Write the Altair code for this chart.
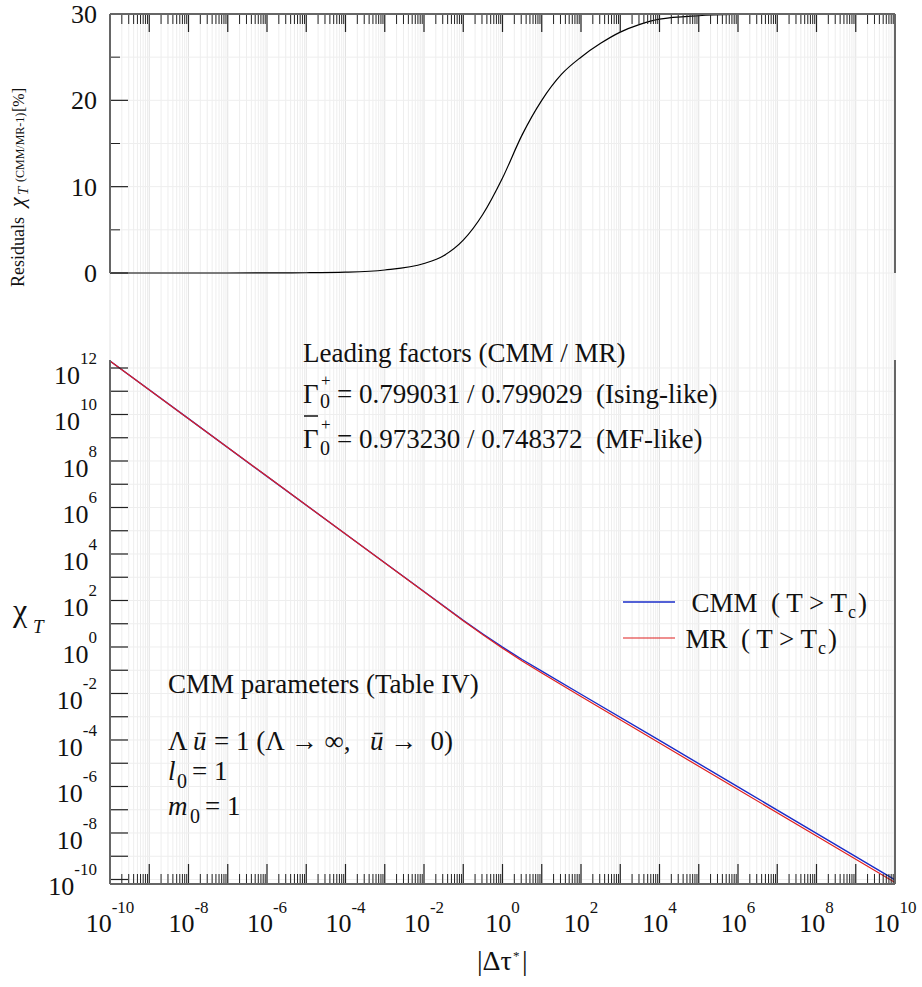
import altair as alt
import pandas as pd

# ---------------- data ----------------
# top panel: residuals chi_T (CMM/MR-1) in %, vs log10|dtau*|
res_log_tau = [-10, -8, -6, -5, -4, -3, -2, -1.5, -1, -0.5, 0, 0.5, 1, 1.5, 2, 2.5, 3, 3.5, 4, 5, 6, 7, 8, 10]
res_pct = [0, 0, 0.01, 0.03, 0.1, 0.35, 1.1, 2.0, 3.8, 6.8, 11.0, 16.0, 20.0, 23.0, 25.0, 26.6, 27.9, 28.8, 29.4, 29.8, 29.95, 30.0, 30.0, 30.0]

# bottom panel: log10 chi_T vs log10|dtau*|
chi_log_tau = [-10, -8, -6, -4, -2, -1, -0.5, 0, 0.5, 1, 2, 4, 6, 8, 10]
chi_mr_log = [12.30, 9.82, 7.34, 4.86, 2.38, 1.13, 0.53, -0.05, -0.60, -1.12, -2.13, -4.13, -6.13, -8.13, -10.13]
chi_cmm_log = [12.30, 9.82, 7.34, 4.86, 2.385, 1.145, 0.557, -0.005, -0.537, -1.041, -2.032, -4.018, -6.016, -8.016, -10.016]

# ticks / labels
x_label_exp = list(range(-10, 11, 2))
x_decades = list(range(-10, 11))
x_minor_mult = [2, 3, 4, 5, 6, 7, 8, 9]
y_label_exp = list(range(-10, 13, 2))
y_decades = list(range(-10, 13))
res_major = [0, 10, 20, 30]
res_minor = [5, 15, 25]
res_grid = [0, 5, 10, 15, 20, 25, 30]

FONT = "Liberation Serif, Times New Roman, Times, serif"
TXT = "#111111"
SP = "\u00a0"
W, H1, H2, GAP = 785, 259, 524, 87
OX, OY1 = 110, 14
OY2 = OY1 + H1 + GAP

ONE = pd.DataFrame({"a": [0]})

XS = alt.Scale(type="log", domain=[1e-10, 1e10], nice=False)
YS1 = alt.Scale(domain=[0, 30], nice=False, zero=False)
YS2 = alt.Scale(type="log", domain=[10 ** -10.194, 10 ** 12.344], nice=False)


def xe(f):
    return alt.X(f"{f}:Q", scale=XS, axis=None)


def y1(f):
    return alt.Y(f"{f}:Q", scale=YS1, axis=None)


def y2(f):
    return alt.Y(f"{f}:Q", scale=YS2, axis=None)


df_res = pd.DataFrame({"tau": [10.0 ** t for t in res_log_tau], "res": res_pct})
df_mr = pd.DataFrame({"tau": [10.0 ** t for t in chi_log_tau], "chi": [10.0 ** v for v in chi_mr_log]})
df_cmm = pd.DataFrame({"tau": [10.0 ** t for t in chi_log_tau], "chi": [10.0 ** v for v in chi_cmm_log]})

df_xmaj = pd.DataFrame({"t": [10.0 ** d for d in x_decades]})
df_xmin = pd.DataFrame({"t": [m * 10.0 ** d for d in x_decades[:-1] for m in x_minor_mult]})
df_ydec = pd.DataFrame({"v": [10.0 ** d for d in y_decades]})


def rule(df=ONE, color="#222", sw=1.0, opacity=1.0, **enc):
    return alt.Chart(df).mark_rule(color=color, strokeWidth=sw, opacity=opacity).encode(**enc)


def txt(s, x, y, size, italic=False, align="left", angle=0, oy=OY2):
    return alt.Chart(ONE).mark_text(
        text=s, font=FONT, fontSize=size, fontStyle="italic" if italic else "normal",
        align=align, baseline="alphabetic", angle=angle, color=TXT
    ).encode(x=alt.value(x - OX), y=alt.value(y - oy))


def ew(s):
    return sum(5.66 if c == "-" else 8.5 for c in s)


GRID_MIN = "#eeeeee"
GRID_MAJ = "#e2e2e2"
FRAME = "#666666"

# ---------------- top panel ----------------
top_layers = [
    rule(df_xmin, GRID_MIN, 1, x=xe("t"), y=alt.value(0), y2=alt.value(H1 + GAP)),
    rule(df_xmaj, GRID_MAJ, 1, x=xe("t"), y=alt.value(0), y2=alt.value(H1 + GAP)),
    rule(pd.DataFrame({"v": res_grid}), GRID_MIN, 1, y=y1("v"), x=alt.value(0), x2=alt.value(W)),
    alt.Chart(df_res).mark_line(color="#000000", strokeWidth=1.2, interpolate="monotone").encode(
        x=xe("tau"), y=y1("res")),
    rule(df_xmaj, "#222", 1.2, x=xe("t"), y=alt.value(0), y2=alt.value(18)),
    rule(df_xmin, "#222", 1, x=xe("t"), y=alt.value(0), y2=alt.value(10)),
    rule(pd.DataFrame({"v": res_major}), "#222", 1.2, y=y1("v"), x=alt.value(0), x2=alt.value(18)),
    rule(pd.DataFrame({"v": res_minor}), "#222", 1, y=y1("v"), x=alt.value(0), x2=alt.value(10)),
    rule(ONE, FRAME, 2, x=alt.value(0), x2=alt.value(W), y=alt.value(0)),
    rule(ONE, FRAME, 2, x=alt.value(0), y=alt.value(0), y2=alt.value(H1)),
    rule(ONE, FRAME, 2, x=alt.value(W), y=alt.value(0), y2=alt.value(H1)),
    alt.Chart(pd.DataFrame({"v": res_major, "s": [str(v) for v in res_major]})).mark_text(
        font=FONT, fontSize=26, align="right", baseline="middle", dy=1, color=TXT
    ).encode(x=alt.value(-13), y=y1("v"), text="s:N"),
    # rotated y title
    txt("Residuals", 24, 287, 18, angle=270, oy=OY1),
    txt("χ", 24, 207, 22, italic=True, angle=270, oy=OY1),
    txt("T", 28, 195, 15, italic=True, angle=270, oy=OY1),
    txt("(CMM/MR-1)", 24, 182, 12, angle=270, oy=OY1),
    txt("[%]", 24, 112, 16, angle=270, oy=OY1),
    # layout anchor (invisible)
    rule(ONE, "#ffffff", 1, 0, x=alt.value(-OX), x2=alt.value(W + 27), y=alt.value(-OY1)),
]
top = alt.layer(*top_layers).properties(width=W, height=H1)

# ---------------- bottom panel ----------------
bot_layers = [
    rule(df_xmin, GRID_MIN, 1, x=xe("t"), y=alt.value(0), y2=alt.value(H2)),
    rule(df_xmaj, GRID_MAJ, 1, x=xe("t"), y=alt.value(0), y2=alt.value(H2)),
    rule(df_ydec, GRID_MIN, 1, y=y2("v"), x=alt.value(0), x2=alt.value(W)),
    alt.Chart(df_cmm).mark_line(color="#1a2cc8", strokeWidth=1.4).encode(x=xe("tau"), y=y2("chi")),
    alt.Chart(df_mr).mark_line(color="#e02020", strokeWidth=1.2).encode(x=xe("tau"), y=y2("chi")),
    rule(df_xmaj, "#222", 1.2, x=xe("t"), y=alt.value(H2 - 20), y2=alt.value(H2)),
    rule(df_xmin, "#222", 1, x=xe("t"), y=alt.value(H2 - 10), y2=alt.value(H2)),
    rule(df_ydec, "#222", 1.2, y=y2("v"), x=alt.value(0), x2=alt.value(18)),
    rule(ONE, FRAME, 2, x=alt.value(0), y=alt.value(0), y2=alt.value(H2)),
    rule(ONE, FRAME, 2, x=alt.value(0), x2=alt.value(W), y=alt.value(H2)),
    rule(ONE, FRAME, 2, x=alt.value(W), y=alt.value(0), y2=alt.value(H2)),
]

# x tick labels 10^e, grouped by exponent width so each label is centred on its tick
groups = {}
for e in x_label_exp:
    groups.setdefault(round(ew(str(e)), 2), []).append(e)
for w, exps in groups.items():
    d = pd.DataFrame({"t": [10.0 ** e for e in exps], "s": [str(e) for e in exps]})
    dx = 13 - w / 2
    bot_layers.append(alt.Chart(d).mark_text(
        text="10", font=FONT, fontSize=26, align="right", baseline="alphabetic", dx=dx, color=TXT
    ).encode(x=xe("t"), y=alt.value(932 - OY2)))
    bot_layers.append(alt.Chart(d).mark_text(
        font=FONT, fontSize=17, align="left", baseline="alphabetic", dx=dx, color=TXT
    ).encode(x=xe("t"), y=alt.value(913 - OY2), text="s:N"))

# y tick labels 10^e, right aligned
groups = {}
for e in y_label_exp:
    groups.setdefault(round(ew(str(e)), 2), []).append(e)
for w, exps in groups.items():
    d = pd.DataFrame({"v": [10.0 ** e for e in exps], "s": [str(e) for e in exps]})
    bot_layers.append(alt.Chart(d).mark_text(
        text="10", font=FONT, fontSize=26, align="right", baseline="alphabetic", dy=16, color=TXT
    ).encode(x=alt.value(-13 - w), y=y2("v")))
    bot_layers.append(alt.Chart(d).mark_text(
        font=FONT, fontSize=17, align="right", baseline="alphabetic", dy=-4, color=TXT
    ).encode(x=alt.value(-13), y=y2("v"), text="s:N"))

bot_layers += [
    # axis titles
    txt("χ", 13, 621, 32),
    txt("T", 33, 633, 19, italic=True),
    txt("|Δτ", 477, 970, 28),
    txt("*", 513, 960, 13),
    txt("|", 522, 970, 28),
    # leading factors
    txt("Leading factors (CMM / MR)", 303, 362, 27),
    txt("Γ", 303, 403, 27),
    txt("+", 321, 386, 17),
    txt("0", 320, 408, 20),
    txt(f"= 0.799031 / 0.799029 {SP}(Ising-like)", 337, 403, 27),
    txt("Γ", 303, 448, 27),
    rule(ONE, TXT, 1.5, x=alt.value(304 - OX), x2=alt.value(318 - OX), y=alt.value(416 - OY2)),
    txt("+", 321, 430, 17),
    txt("0", 320, 455, 20),
    txt(f"= 0.973230 / 0.748372 {SP}(MF-like)", 337, 448, 27),
    # CMM parameters
    txt("CMM parameters (Table IV)", 168, 693, 27),
    txt("Λ", 168, 750, 27),
    txt("ū", 193, 750, 27, italic=True),
    txt("= 1 (Λ → ∞,", 214, 750, 27),
    txt("ū", 370, 750, 27, italic=True),
    txt(f"→ {SP}0)", 390, 750, 27),
    txt("l", 168, 780, 27, italic=True),
    txt("0", 177, 788, 20),
    txt("= 1", 192, 780, 27),
    txt("m", 168, 815, 27, italic=True),
    txt("0", 190, 823, 20),
    txt("= 1", 205, 815, 27),
    # legend
    rule(ONE, "#1a2cc8", 1.4, x=alt.value(623 - OX), x2=alt.value(675 - OX), y=alt.value(602 - OY2)),
    rule(ONE, "#e02020", 1.2, x=alt.value(623 - OX), x2=alt.value(675 - OX), y=alt.value(638 - OY2)),
    txt(f"CMM {SP}( T > T", 847, 612, 27, align="right"),
    txt("c", 848, 618, 18),
    txt(")", 858, 612, 27),
    txt(f"MR {SP}( T > T", 817, 648, 27, align="right"),
    txt("c", 818, 654, 18),
    txt(")", 828, 648, 27),
    # layout anchor (invisible)
    rule(ONE, "#ffffff", 1, 0, x=alt.value(-OX), x2=alt.value(W + 27), y=alt.value(H2 + 103)),
]
bottom = alt.layer(*bot_layers).properties(width=W, height=H2)

chart = alt.vconcat(top, bottom, spacing=GAP, bounds="flush").resolve_scale(
    x="independent", y="independent"
).properties(padding=0).configure_view(stroke=None)

chart.save("out.html", embed_options={"renderer": "svg", "actions": False})
